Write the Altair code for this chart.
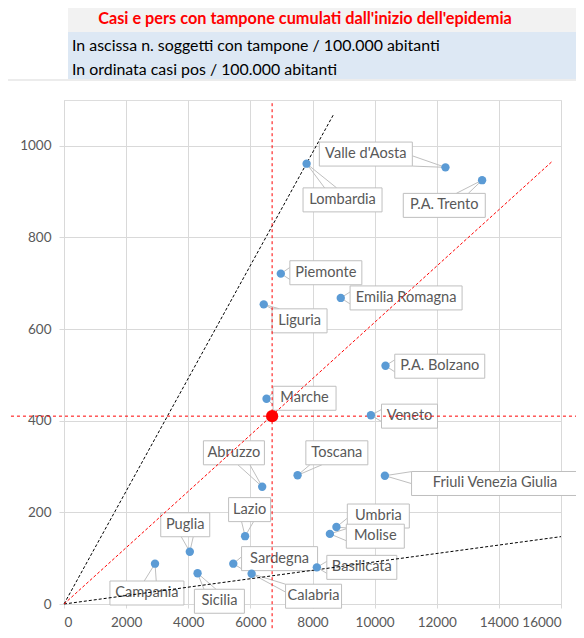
import altair as alt
import pandas as pd

# ---------------- data ----------------
regions = ["Lombardia", "Valle d'Aosta", "P.A. Trento", "Piemonte", "Emilia Romagna",
           "Liguria", "P.A. Bolzano", "Marche", "Veneto", "Abruzzo", "Toscana",
           "Friuli Venezia Giulia", "Lazio", "Puglia", "Umbria", "Molise",
           "Campania", "Sardegna", "Sicilia", "Calabria", "Basilicata"]
tamponi = [7810, 12280, 13460, 6980, 8910, 6430, 10350, 6520, 9880, 6380, 7520,
           10330, 5830, 4050, 8770, 8560, 2930, 5450, 4300, 6040, 8140]
casi = [961, 953, 925, 721, 668, 654, 520, 448, 412, 256, 281,
        280, 148, 114, 168, 153, 88, 88, 67, 66, 80]

italia_tamponi = 6700
italia_casi = 410

x_ticks = [0, 2000, 4000, 6000, 8000, 10000, 12000, 14000, 16000]
y_ticks = [0, 200, 400, 600, 800, 1000]

title = "Casi e pers con tampone cumulati dall'inizio dell'epidemia"
subtitle1 = "In ascissa n. soggetti con tampone / 100.000 abitanti"
subtitle2 = "In ordinata casi pos / 100.000 abitanti"

# reference lines through the origin (end points, data units)
ref_black = [(8690, 1070), (16000, 147)]
ref_red = [(15700, 965)]

# ---------------- layout (annotation placement) ----------------
X_MAX, Y_MAX = 16000, 1100
W, H = 497, 504
PX = W / X_MAX
PY = H / Y_MAX

label_layout = {  # label centre (data units), box width (px)
    "Valle d'Aosta": (9717, 982, 93),
    "Lombardia": (8967, 882, 79),
    "P.A. Trento": (12242, 870, 82),
    "Piemonte": (8430, 723, 72),
    "Emilia Romagna": (11013, 668, 112),
    "Liguria": (7583, 618, 55),
    "P.A. Bolzano": (12097, 519, 90),
    "Marche": (7744, 449, 63),
    "Veneto": (11123, 410, 56),
    "Abruzzo": (5470, 330, 61),
    "Toscana": (8784, 330, 62),
    "Friuli Venezia Giulia": (13877, 263, 167),
    "Lazio": (5975, 206, 42),
    "Puglia": (3903, 173, 49),
    "Umbria": (10119, 192, 62),
    "Molise": (10022, 148, 58),
    "Sardegna": (6940, 99, 76),
    "Basilicata": (9588, 80, 70),
    "Calabria": (8034, 17, 56),
    "Campania": (2670, 24, 74),
    "Sicilia": (5003, 6, 50),
}
BOX_HH = 12     # half box height, px
WEDGE = 6       # half wedge base, px

rows, wedges = [], []
for r, tx, cy in zip(regions, tamponi, casi):
    lx, ly, bw = label_layout[r]
    hw = bw / 2
    rows.append(dict(region=r, x=tx, y=cy, lx=lx, ly=ly,
                     bx1=lx - hw / PX, bx2=lx + hw / PX,
                     by1=ly - BOX_HH / PY, by2=ly + BOX_HH / PY))
    # wedge callout: from the point to two base points on the box edge (pixel space)
    dx = (tx - lx) * PX
    dy = (cy - ly) * PY
    tx_ = hw / abs(dx) if dx else 1e9
    ty_ = BOX_HH / abs(dy) if dy else 1e9
    t = min(tx_, ty_)
    ex, ey = dx * t, dy * t
    if tx_ < ty_:
        b = [(ex, max(-BOX_HH, min(BOX_HH, ey + s * WEDGE))) for s in (-1, 1)]
    else:
        b = [(max(-hw, min(hw, ex + s * WEDGE)), ey) for s in (-1, 1)]
    for (bx, by) in b:
        wedges.append(dict(x=tx, y=cy, x2=lx + bx / PX, y2=ly + by / PY))
df = pd.DataFrame(rows)
wedge_df = pd.DataFrame(wedges)

lines = []
for i, (ex, ey) in enumerate(ref_black):
    lines.append(dict(x=0, y=0, x2=ex, y2=ey, kind="black"))
for i, (ex, ey) in enumerate(ref_red):
    lines.append(dict(x=0, y=0, x2=ex, y2=ey, kind="red"))
lines_df = pd.DataFrame(lines)

cross_df = pd.DataFrame([
    dict(x=-1900, y=italia_casi, x2=16800, y2=italia_casi),
    dict(x=italia_tamponi, y=1093, x2=italia_tamponi, y2=-80),
])
italia_df = pd.DataFrame([dict(x=italia_tamponi, y=italia_casi)])

FONT = "Lato"
GRAY = "#595959"

xscale = alt.Scale(domain=[0, X_MAX], nice=False, zero=False)
yscale = alt.Scale(domain=[0, Y_MAX], nice=False, zero=False)
xaxis = alt.Axis(title=None, values=x_ticks, format="d", grid=True, gridColor="#d9d9d9",
                 domainColor="#d9d9d9", tickColor="#d9d9d9", tickSize=4,
                 labelColor=GRAY, labelFont=FONT, labelFontSize=13.5, labelPadding=7)
yaxis = alt.Axis(title=None, values=y_ticks, format="d", grid=True, gridColor="#d9d9d9",
                 domainColor="#d9d9d9", tickColor="#d9d9d9", tickSize=5,
                 labelColor=GRAY, labelFont=FONT, labelFontSize=13.5, labelPadding=8)


def X(f):
    return alt.X(f, type="quantitative", scale=xscale, axis=xaxis)


def Y(f):
    return alt.Y(f, type="quantitative", scale=yscale, axis=yaxis)


# decorations
deco_df = pd.DataFrame([dict(k=1)])
border = alt.Chart(deco_df).mark_rect(fillOpacity=0, stroke="#d9d9d9", strokeWidth=1).encode(
    x=alt.value(-58), x2=alt.value(620), y=alt.value(-20), y2=alt.value(640))
box_gray = alt.Chart(deco_df).mark_rect(fill="#f2f2f2").encode(
    x=alt.value(4), x2=alt.value(620), y=alt.value(-100), y2=alt.value(-68))
box_blue = alt.Chart(deco_df).mark_rect(fill="#dde8f4").encode(
    x=alt.value(4), x2=alt.value(620), y=alt.value(-68), y2=alt.value(-21))
t_title = alt.Chart(deco_df).mark_text(text=title, font=FONT, fontSize=16.3, fontWeight="bold",
                                        color="#ff0000", align="center", baseline="middle").encode(
    x=alt.value(241), y=alt.value(-81))
t_sub1 = alt.Chart(deco_df).mark_text(text=subtitle1, font=FONT, fontSize=15.9, color="#000000",
                                       align="left", baseline="middle").encode(
    x=alt.value(8), y=alt.value(-54))
t_sub2 = alt.Chart(deco_df).mark_text(text=subtitle2, font=FONT, fontSize=15.9, color="#000000",
                                       align="left", baseline="middle").encode(
    x=alt.value(8), y=alt.value(-30))

base = alt.Chart(df)
leaders = alt.Chart(wedge_df).mark_rule(color="#bfbfbf", strokeWidth=1).encode(
    x=X("x"), y=Y("y"), x2="x2", y2="y2")
boxes = base.mark_rect(fill="white", stroke="#bfbfbf", strokeWidth=1).encode(
    x=X("bx1"), x2="bx2", y=Y("by1"), y2="by2")
texts = base.mark_text(font=FONT, fontSize=14.6, color=GRAY, baseline="middle").encode(
    x=X("lx"), y=Y("ly"), text="region")

black_lines = alt.Chart(lines_df[lines_df.kind == "black"]).mark_rule(
    color="black", strokeDash=[3, 2], strokeWidth=1).encode(x=X("x"), y=Y("y"), x2="x2", y2="y2")
red_lines = alt.Chart(lines_df[lines_df.kind == "red"]).mark_rule(
    color="#ff0000", strokeDash=[3, 2], strokeWidth=1).encode(x=X("x"), y=Y("y"), x2="x2", y2="y2")
cross = alt.Chart(cross_df).mark_rule(color="#ff0000", strokeDash=[3, 3], strokeWidth=1).encode(
    x=X("x"), y=Y("y"), x2="x2", y2="y2")

points = base.mark_circle(size=70, color="#5b9bd5", opacity=1).encode(x=X("x"), y=Y("y"))
italia = alt.Chart(italia_df).mark_circle(size=150, color="#ff0000", opacity=1).encode(
    x=X("x"), y=Y("y"))

chart = alt.layer(
    border, box_gray, box_blue, t_title, t_sub1, t_sub2,
    leaders, boxes, texts, black_lines, red_lines, cross, points, italia
).properties(
    width=W, height=H,
    autosize=alt.AutoSizeParams(type="none"),
    padding={"left": 56, "top": 92, "right": 15, "bottom": 26},
).configure_view(stroke=None).configure(background="white")

chart.save("out.html", embed_options={"renderer": "svg", "actions": False})
